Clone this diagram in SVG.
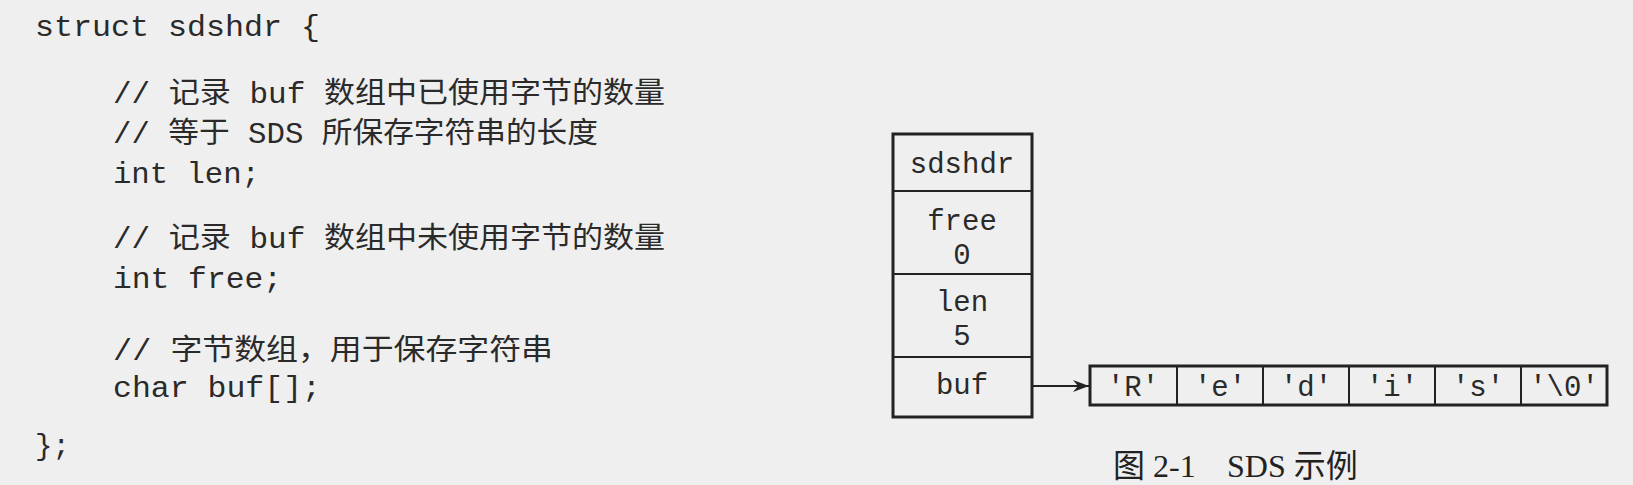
<svg xmlns="http://www.w3.org/2000/svg" width="1633" height="485" viewBox="0 0 1633 485">
<defs>
<style>
.c{font-family:"Liberation Mono","Noto Sans CJK SC",monospace;font-size:29px;fill:#2a2a2a}
.m{font-family:"Liberation Mono","Noto Sans CJK SC",monospace;font-size:29px;fill:#2a2a2a;text-anchor:middle}
.b{fill:none;stroke:#222;stroke-width:3}
.l{stroke:#222;stroke-width:2}
.cap{font-family:"Liberation Serif","Noto Sans CJK SC",serif;font-size:32px;fill:#222}
</style>
<marker id="ah" viewBox="0 0 16 12" refX="16" refY="6" markerWidth="16" markerHeight="12" markerUnits="userSpaceOnUse" orient="auto"><path d="M0,0 L16,6 L0,12 L5,6 Z" fill="#222"/></marker>
</defs>
<rect width="1633" height="485" fill="#efefef"/>
<g id="code">
<text class="c" x="35" y="36" textLength="285" lengthAdjust="spacingAndGlyphs">struct sdshdr {</text>
<text class="c" x="113" y="103" textLength="552" lengthAdjust="spacingAndGlyphs">// 记录 buf 数组中已使用字节的数量</text>
<text class="c" x="113" y="143" textLength="485" lengthAdjust="spacingAndGlyphs">// 等于 SDS 所保存字符串的长度</text>
<text class="c" x="113" y="183" textLength="147" lengthAdjust="spacingAndGlyphs">int len;</text>
<text class="c" x="113" y="248" textLength="552" lengthAdjust="spacingAndGlyphs">// 记录 buf 数组中未使用字节的数量</text>
<text class="c" x="113" y="288" textLength="169" lengthAdjust="spacingAndGlyphs">int free;</text>
<text class="c" x="113" y="360" textLength="440" lengthAdjust="spacingAndGlyphs">// 字节数组，用于保存字符串</text>
<text class="c" x="113" y="397" textLength="208" lengthAdjust="spacingAndGlyphs">char buf[];</text>
<text class="c" x="35" y="455">};</text>
</g>
<g id="sdshdr">
<rect class="b" x="893" y="134" width="139" height="283"/>
<line class="l" x1="893" y1="191" x2="1032" y2="191"/>
<line class="l" x1="893" y1="274" x2="1032" y2="274"/>
<line class="l" x1="893" y1="357" x2="1032" y2="357"/>
<text class="m" x="962" y="173">sdshdr</text>
<text class="m" x="962" y="230">free</text>
<text class="m" x="962" y="264">0</text>
<text class="m" x="962" y="311">len</text>
<text class="m" x="962" y="345">5</text>
<text class="m" x="962" y="394">buf</text>
</g>
<g id="buf-array">
<rect class="b" x="1090" y="366" width="517" height="39"/>
<line class="l" x1="1177" y1="366" x2="1177" y2="405"/>
<line class="l" x1="1263" y1="366" x2="1263" y2="405"/>
<line class="l" x1="1349" y1="366" x2="1349" y2="405"/>
<line class="l" x1="1435" y1="366" x2="1435" y2="405"/>
<line class="l" x1="1521" y1="366" x2="1521" y2="405"/>
<text class="m" x="1133" y="396">'R'</text>
<text class="m" x="1220" y="396">'e'</text>
<text class="m" x="1306" y="396">'d'</text>
<text class="m" x="1392" y="396">'i'</text>
<text class="m" x="1478" y="396">'s'</text>
<text class="m" x="1564" y="396">'\0'</text>
</g>
<g id="connectors">
<line class="l" x1="1033" y1="386" x2="1089" y2="386" marker-end="url(#ah)"/>
</g>
<g id="caption">
<text class="cap" x="1113" y="477">图 2-1</text>
<text class="cap" x="1227" y="477">SDS 示例</text>
</g>
</svg>
